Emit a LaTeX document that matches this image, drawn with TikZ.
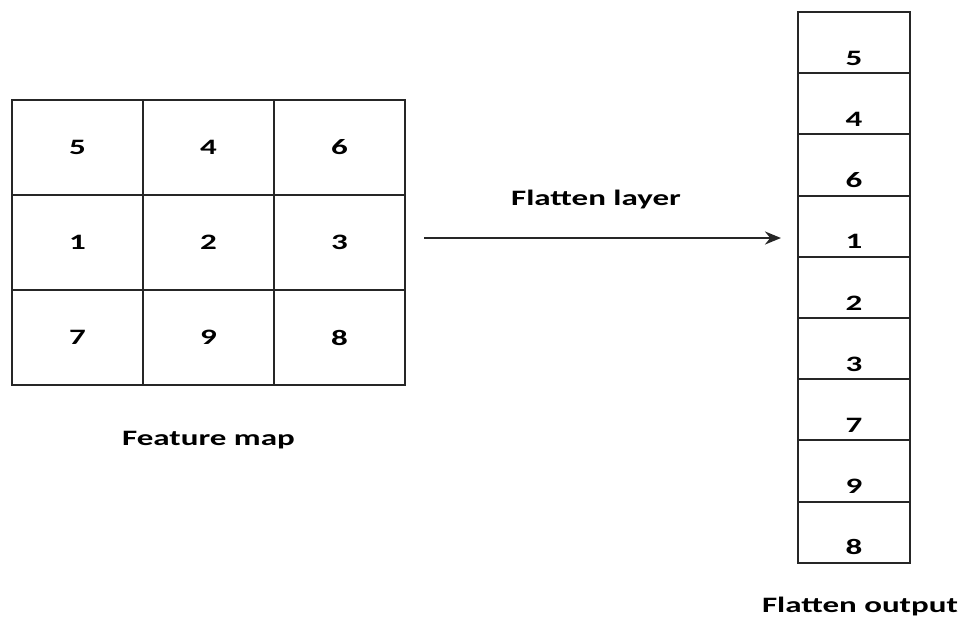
\documentclass[tikz,border=0pt]{standalone}
\usepackage{fontspec}
\setmainfont{Carlito}
\usepackage{graphicx}
\usetikzlibrary{positioning, arrows.meta}
\tikzset{
  fcell/.style={draw=black!85, line width=2pt, minimum width=131pt, minimum height=95pt, inner sep=0pt},
  ocell/.style={draw=black!85, line width=2pt, minimum width=112pt, minimum height=61.2pt, inner sep=0pt},
  lbl/.style={inner sep=0pt, anchor=base}
}
\newcommand{\wide}[1]{\scalebox{1.5}[1]{\fontsize{22}{26}\selectfont\bfseries #1}}

\begin{document}
\begin{tikzpicture}[x=1pt, y=-1pt]
    \useasboundingbox (0,0) rectangle (969,619);
    % feature map
    \foreach \v [count=\i from 0] in {5,4,6,1,2,3,7,9,8} {
        \pgfmathtruncatemacro\c{mod(\i,3)}
        \pgfmathtruncatemacro\r{div(\i,3)}
        \node[fcell] (f\i) at ({77.5+131*\c},{147.5+95*\r}) {\wide{\v}};
    }
    % flatten output
    \foreach \v [count=\i from 0] in {5,4,6,1,2,3,7,9,8} {
        \node[ocell] (o\i) at (854,{42.6+61.2*\i}) {};
        \node[lbl] (d\i) at ([yshift=9pt]o\i.south) {\wide{\v}};
    }
    \coordinate (tip) at (781,238);
    \draw[-{Stealth[length=16pt, width=13pt]}, line width=2.6pt, black!85] ([xshift=18pt, yshift=4.5pt]f5.east) -- (tip);
    \node[lbl] (layer) at (596,205) {\wide{Flatten layer}};
    \node[lbl] (fmap) at ([yshift=-59pt]f7.south) {\wide{Feature map}};
    \node[lbl] (fout) at ([yshift=-49pt, xshift=6pt]o8.south) {\wide{Flatten output}};
\end{tikzpicture}
\end{document}
